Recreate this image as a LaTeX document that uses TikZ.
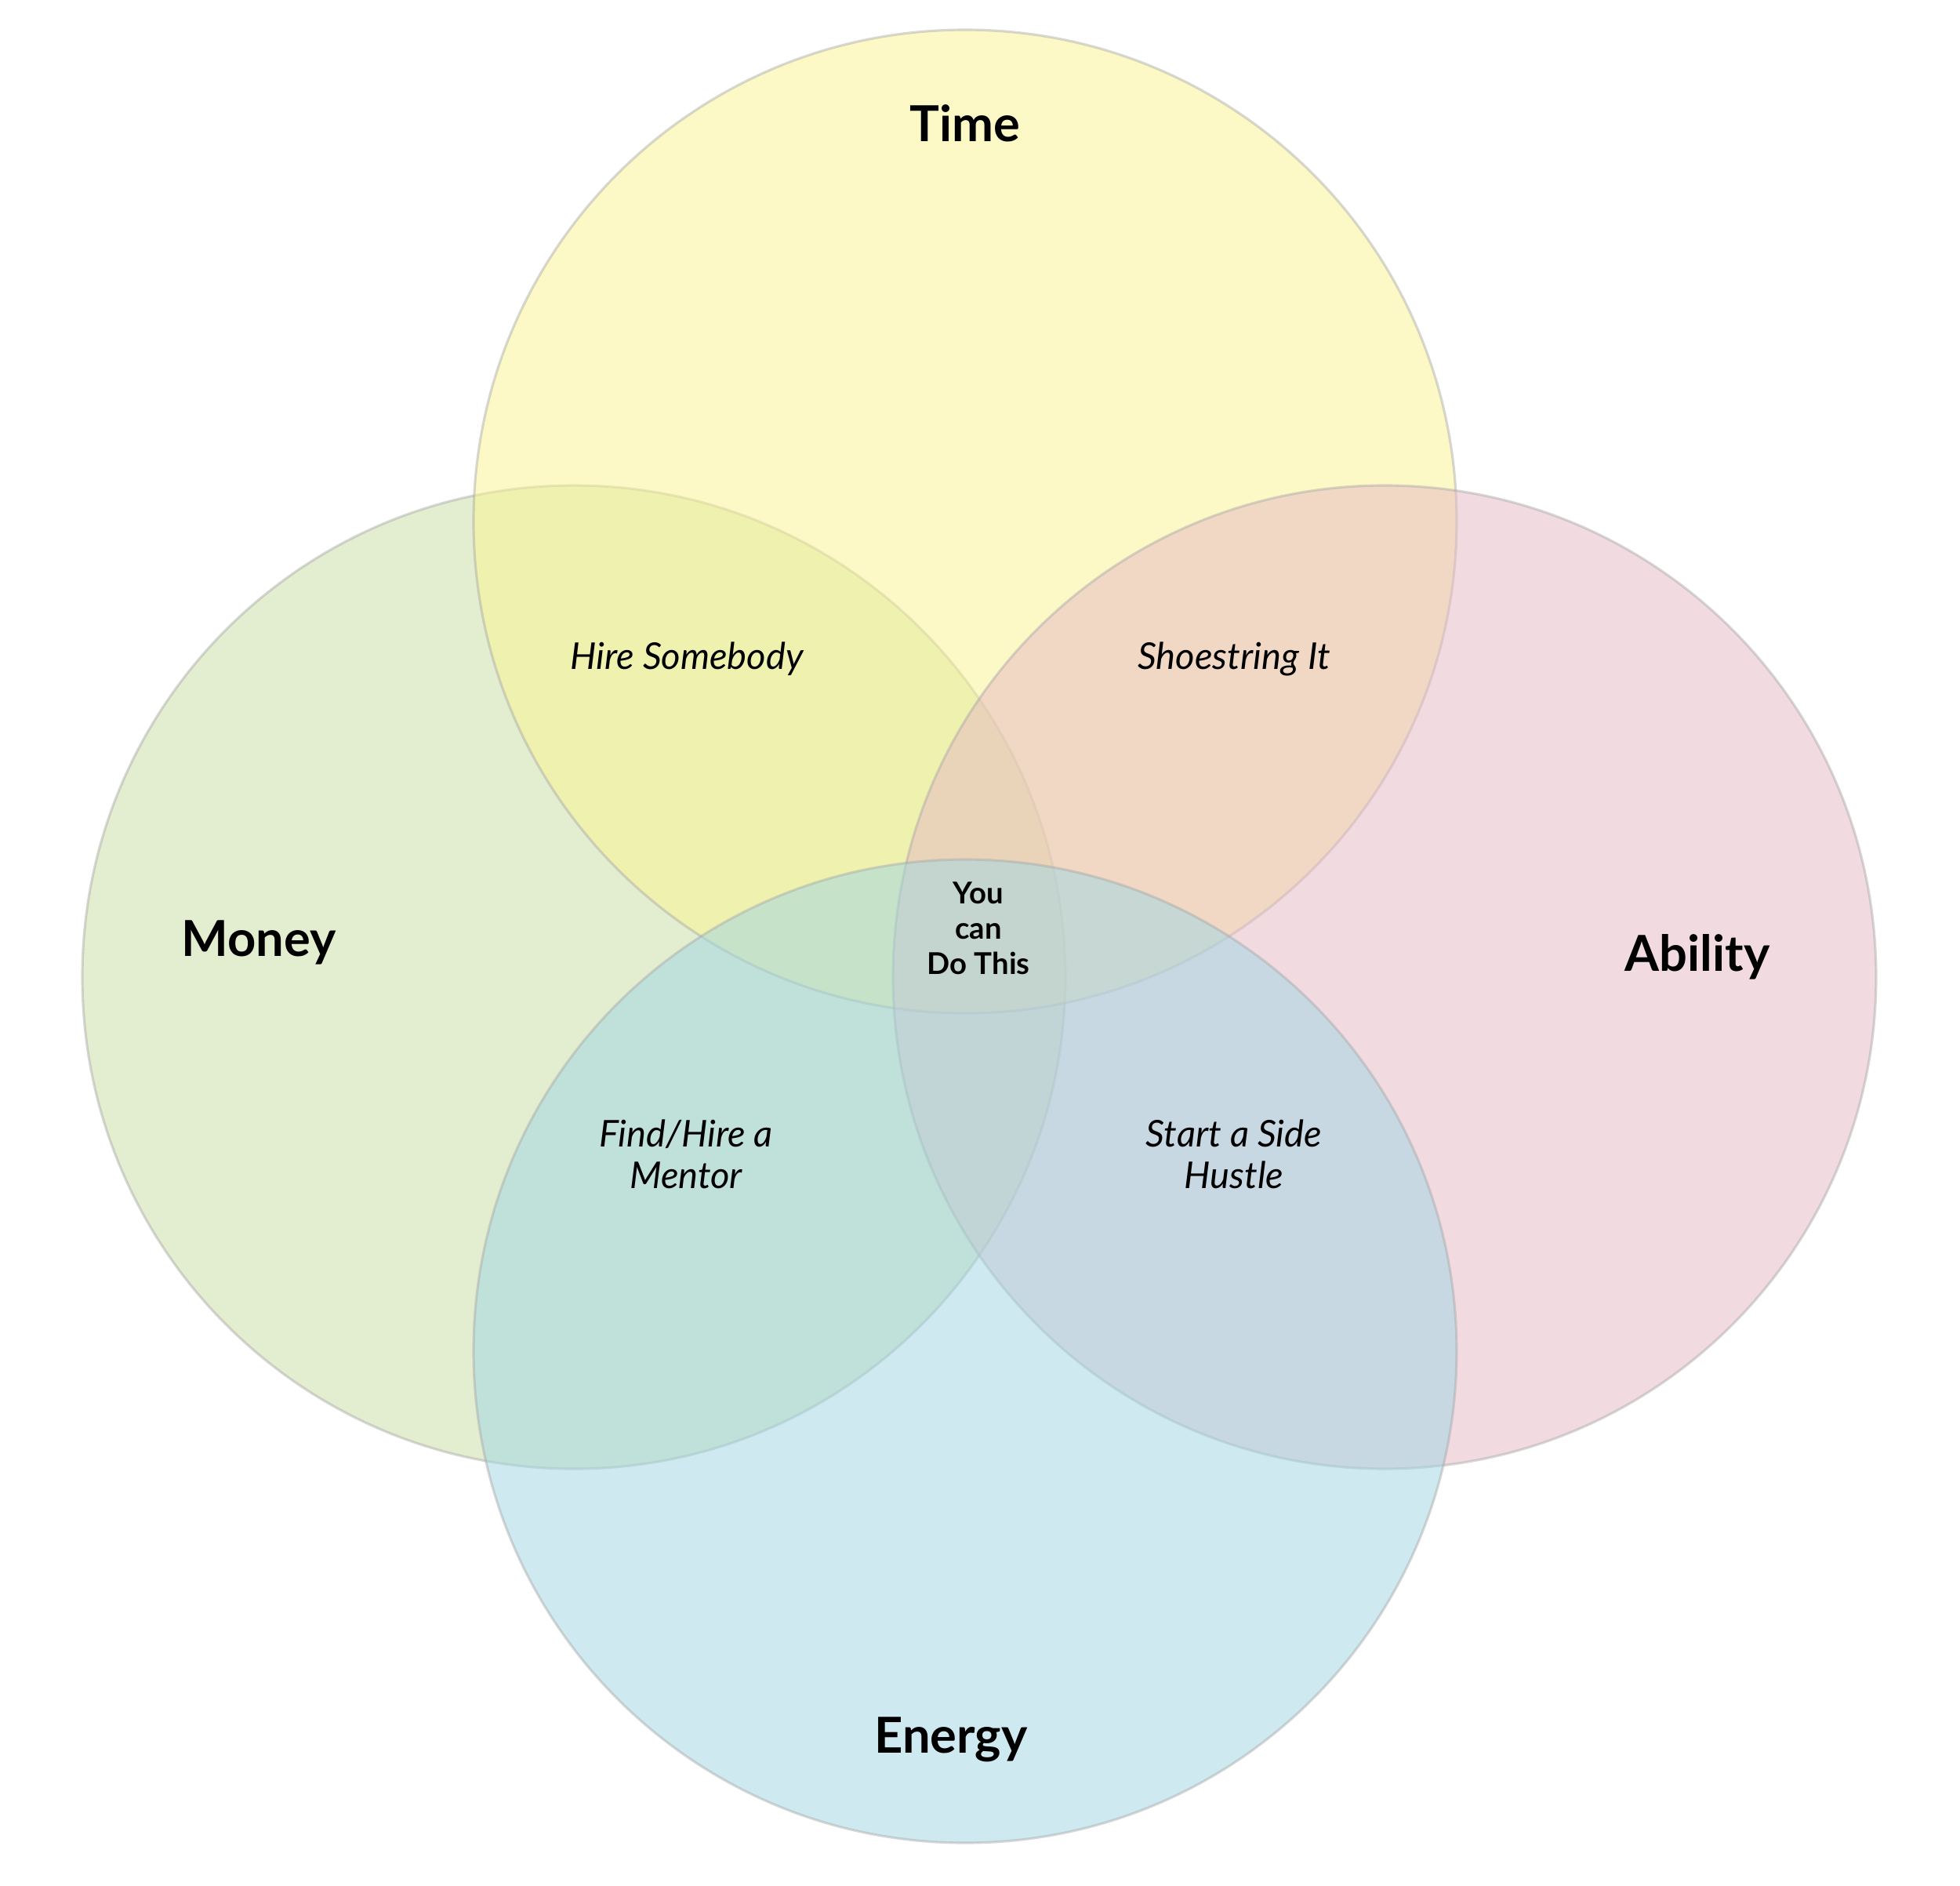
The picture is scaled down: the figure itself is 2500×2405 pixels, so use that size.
\documentclass[tikz,border=0pt]{standalone}
\usepackage{fontspec}
\setmainfont{Lato}
\usepackage{xcolor}
\definecolor{timefill}{HTML}{FBF591}
\definecolor{moneyfill}{HTML}{C9DDA1}
\definecolor{abilityfill}{HTML}{E5B9C5}
\definecolor{energyfill}{HTML}{9FD7E3}
\definecolor{rim}{HTML}{A8A8A8}
\usepackage{tikz}
\usetikzlibrary{positioning}

\begin{document}
\begin{tikzpicture}[
            x=0.1mm, y=-0.1mm,
            set/.style={circle, draw=rim, draw opacity=0.45, line width=0.9pt, fill opacity=0.5, minimum size=125.4mm, inner sep=0pt},
            title/.style={font=\fontsize{18}{21}\selectfont\bfseries, text=black},
            blend/.style={font=\fontsize{13.4}{15}\selectfont\itshape, text=black, align=center},
            core/.style={font=\fontsize{10.9}{12.8}\selectfont\bfseries, text=black, align=center}
        ]
            \useasboundingbox[fill=white] (0,0) rectangle (2500,2405);

            % Circles
            \node[set, fill=moneyfill] (money) at (732,1246) {};
            \node[set, fill=timefill] (time) at (1231,665) {};
            \node[set, fill=abilityfill] (ability) at (1766,1246) {};
            \node[set, fill=energyfill] (energy) at (1231,1723) {};

            % Titles
            \node[title] (timelabel) at (1231,157) {Time};
            \node[title] (moneylabel) at (330,1202) {Money};
            \node[title] (abilitylabel) at (2165,1220) {Ability};
            \node[title] (energylabel) at (1213,2218) {Energy};

            % Overlaps
            \node[blend] (hire) at (876,840) {Hire Somebody};
            \node[blend] (shoe) at (1574,840) {Shoestring It};
            \node[blend] (mentor) at (875,1472) {Find/Hire a\\Mentor};
            \node[blend] (side) at (1574,1472) {Start a Side\\Hustle};
            \node[core] (centre) at (1248,1184) {You\\can\\Do This};
        \end{tikzpicture}
\end{document}
